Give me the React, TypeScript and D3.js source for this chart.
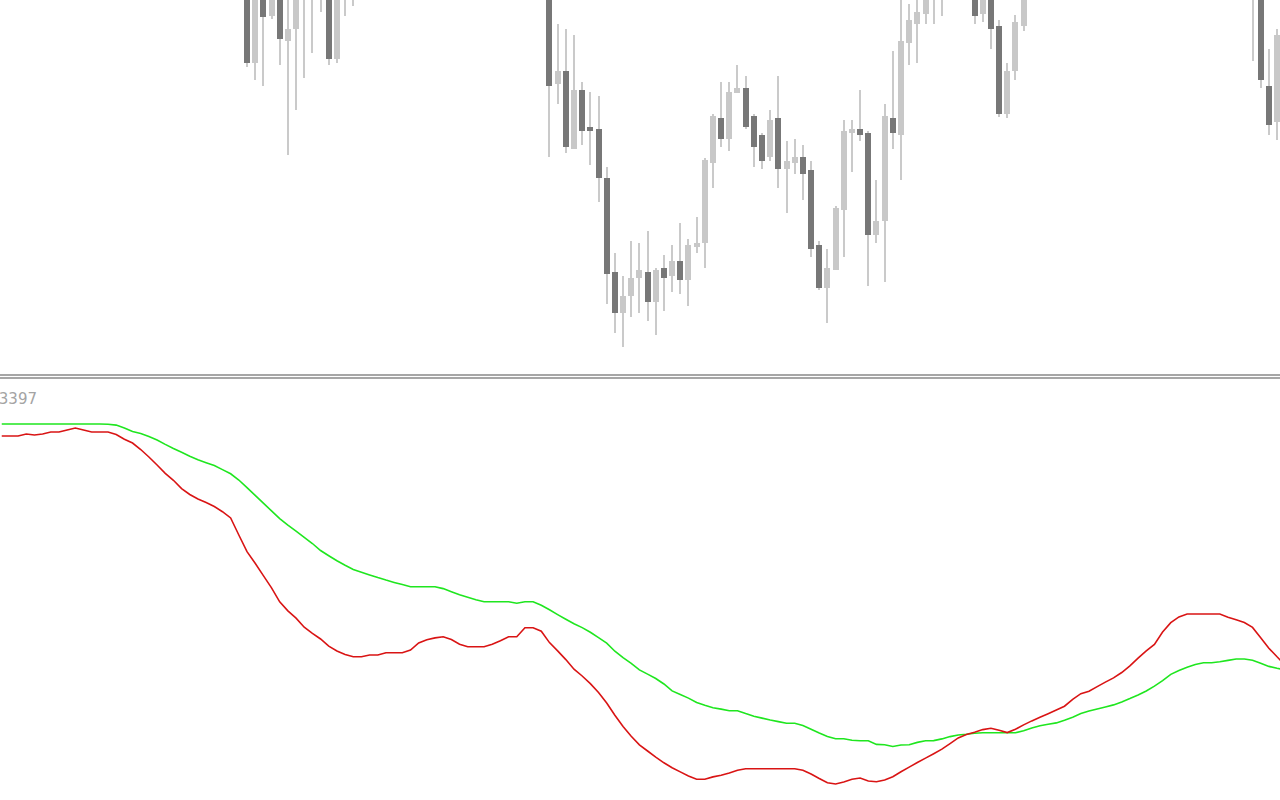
import React from 'react';
import * as d3 from 'd3';

// bar slots visible in the window (0 = leftmost bar)
const barCount = 157;

// candles that reach into the visible price range: [bar, open, high, low, close]
const candleBars = [
  30, 31, 32, 33, 34, 35, 36, 37, 38, 39, 40, 41, 42, 43,
  67, 68, 69, 70, 71, 72, 73, 74, 75, 76, 77, 78, 79, 80, 81, 82, 83, 84, 85, 86, 87, 88, 89, 90,
  91, 92, 93, 94, 95, 96, 97, 98, 99, 100, 101, 102, 103, 104, 105, 106, 107, 108, 109, 110,
  111, 112, 113, 114, 115,
  119, 120, 121, 122, 123, 124, 125,
  153, 154, 155, 156,
];
const opens = [
  150.10, 149.37, 150.05, 149.84, 150.08, 149.59, 149.71, 150.10, 150.30, 150.15, 150.25, 149.41, 150.20, 150.40,
  150.10, 149.16, 149.29, 148.51, 149.10, 148.73, 148.71, 148.22, 147.28, 146.87, 147.04, 147.22, 147.28, 146.98,
  147.32, 147.24, 147.39, 147.20, 147.53, 147.57, 148.37, 148.82, 148.61, 149.07,
  149.12, 148.84, 148.65, 148.43, 148.82, 148.31, 148.37, 148.43, 148.30, 147.55, 147.12, 147.30, 147.90, 148.67,
  148.71, 148.67, 147.65, 147.79, 148.82, 148.65,
  149.57, 149.76, 149.86, 150.05, 150.20,
  150.10, 149.86, 150.05, 149.74, 148.86, 149.29, 149.74,
  150.20, 150.35, 149.14, 148.78,
];
const highs = [
  150.25, 150.20, 150.15, 150.18, 150.20, 150.05, 150.30, 150.45, 150.50, 150.40, 150.35, 150.30, 150.50, 150.60,
  150.20, 149.76, 149.71, 149.65, 149.18, 149.08, 149.04, 148.33, 147.47, 147.24, 147.59, 147.57, 147.69, 147.32,
  147.45, 147.55, 147.77, 147.61, 147.83, 148.42, 148.86, 149.18, 149.18, 149.35,
  149.24, 148.86, 148.67, 148.90, 149.24, 148.59, 148.61, 148.55, 148.39, 147.59, 147.51, 147.94, 148.80, 148.80,
  149.10, 148.69, 148.20, 148.96, 149.49, 150.05,
  149.96, 150.02, 150.15, 150.30, 150.45,
  150.20, 150.15, 150.12, 149.80, 149.37, 149.85, 150.15,
  150.50, 150.45, 149.51, 149.71,
];
const lows = [
  149.33, 149.20, 149.14, 149.81, 149.35, 148.45, 148.90, 149.22, 149.47, 149.88, 149.35, 149.37, 149.84, 149.94,
  148.43, 148.96, 148.47, 148.51, 148.55, 148.35, 147.98, 146.96, 146.67, 146.53, 146.83, 146.87, 146.79, 146.65,
  146.89, 147.08, 147.06, 146.94, 147.47, 147.32, 148.12, 148.53, 148.49, 149.07,
  148.71, 148.33, 148.31, 148.39, 148.12, 147.87, 148.26, 148.00, 147.43, 147.10, 146.77, 147.30, 147.43, 148.28,
  148.59, 147.14, 147.57, 147.18, 148.51, 148.20,
  149.35, 149.37, 149.76, 149.76, 149.84,
  149.76, 149.78, 149.51, 148.83, 148.82, 149.20, 149.69,
  149.39, 149.12, 148.65, 148.60,
];
const closes = [
  149.37, 150.05, 149.83, 150.08, 149.61, 149.71, 150.12, 150.30, 150.15, 150.25, 149.41, 150.20, 150.40, 150.50,
  149.14, 149.29, 148.53, 149.10, 148.69, 148.69, 148.22, 147.26, 146.87, 147.04, 147.22, 147.30, 146.98, 147.30,
  147.22, 147.39, 147.20, 147.55, 147.57, 148.40, 148.84, 148.61, 149.08, 149.12,
  148.73, 148.53, 148.39, 148.80, 148.31, 148.39, 148.43, 148.26, 147.51, 147.12, 147.32, 147.92, 148.69, 148.71,
  148.65, 147.65, 147.79, 148.84, 148.67, 149.59,
  149.80, 149.88, 150.05, 150.20, 150.35,
  149.84, 150.05, 149.71, 148.86, 149.29, 149.78, 150.05,
  150.35, 149.20, 148.75, 149.65,
];

// indicator buffers, one value per bar (last one runs past the right edge)
const redLine = [
  0.364, 0.364, 0.364, 0.366, 0.365, 0.366, 0.368, 0.368, 0.370, 0.372,
  0.370, 0.368, 0.368, 0.368, 0.3655, 0.3607, 0.357, 0.3505, 0.343, 0.335,
  0.3267, 0.3197, 0.3114, 0.3055, 0.301, 0.2974, 0.2935, 0.2883, 0.2821, 0.265,
  0.2483, 0.2367, 0.2244, 0.2122, 0.1981, 0.1891, 0.1819, 0.1728, 0.1667, 0.161,
  0.1538, 0.149, 0.1456, 0.1433, 0.1433, 0.145, 0.145, 0.1473, 0.1473, 0.1473,
  0.150, 0.157, 0.1602, 0.1621, 0.1633, 0.1604, 0.1558, 0.1533, 0.1533, 0.1533,
  0.1558, 0.1593, 0.1633, 0.1633, 0.1723, 0.1723, 0.1688, 0.1574, 0.1491, 0.1404,
  0.1308, 0.124, 0.1164, 0.1075, 0.097, 0.0848, 0.0735, 0.0637, 0.0552, 0.049,
  0.0429, 0.0372, 0.0323, 0.0281, 0.024, 0.0207, 0.0207, 0.0231, 0.0247, 0.027,
  0.0298, 0.0313, 0.0313, 0.0313, 0.0313, 0.0313, 0.0313, 0.0313, 0.0297, 0.026,
  0.0215, 0.0173, 0.016, 0.018, 0.0208, 0.022, 0.019, 0.0183, 0.020, 0.0232,
  0.0283, 0.0329, 0.0375, 0.0419, 0.0463, 0.0509, 0.0564, 0.0621, 0.0656, 0.0678,
  0.0704, 0.0717, 0.0697, 0.0674, 0.0707, 0.0751, 0.0791, 0.0827, 0.0862, 0.0899,
  0.0938, 0.1007, 0.1063, 0.1087, 0.1134, 0.1179, 0.1221, 0.1275, 0.1341, 0.1418,
  0.1492, 0.1556, 0.168, 0.1773, 0.1831, 0.186, 0.186, 0.186, 0.186, 0.186,
  0.1828, 0.1802, 0.1774, 0.1726, 0.1622, 0.1518, 0.1432, 0.135,
];
const greenLine = [
  0.376, 0.376, 0.376, 0.376, 0.376, 0.376, 0.376, 0.376, 0.376, 0.376,
  0.376, 0.376, 0.376, 0.3758, 0.3749, 0.372, 0.3685, 0.3665, 0.3635, 0.360,
  0.3556, 0.3515, 0.3477, 0.3438, 0.3402, 0.3373, 0.3344, 0.3304, 0.3262, 0.320,
  0.3123, 0.3047, 0.2969, 0.2891, 0.2814, 0.2748, 0.2688, 0.2627, 0.2565, 0.2495,
  0.2443, 0.2392, 0.2347, 0.2306, 0.2278, 0.2251, 0.2224, 0.2199, 0.2176, 0.2154,
  0.2133, 0.2133, 0.2133, 0.2133, 0.2114, 0.2083, 0.2052, 0.2028, 0.2003, 0.1983,
  0.1983, 0.1983, 0.1983, 0.1968, 0.1983, 0.1983, 0.1948, 0.1902, 0.1854, 0.1807,
  0.1762, 0.1724, 0.1677, 0.1623, 0.1569, 0.1488, 0.1423, 0.1366, 0.1301, 0.1259,
  0.1215, 0.116, 0.1091, 0.1055, 0.1019, 0.0975, 0.0947, 0.0923, 0.0909, 0.0893,
  0.0893, 0.0864, 0.0838, 0.0819, 0.080, 0.0784, 0.0768, 0.0767, 0.0745, 0.0707,
  0.067, 0.0636, 0.0613, 0.0613, 0.0597, 0.0593, 0.0593, 0.0556, 0.0553, 0.0535,
  0.055, 0.0553, 0.0576, 0.0593, 0.0594, 0.0611, 0.0634, 0.065, 0.0657, 0.0667,
  0.0673, 0.0673, 0.0673, 0.0673, 0.0673, 0.0693, 0.0721, 0.0742, 0.0758, 0.0771,
  0.0798, 0.0828, 0.0864, 0.0889, 0.091, 0.0931, 0.0951, 0.0981, 0.1014, 0.105,
  0.109, 0.1139, 0.1193, 0.1256, 0.1295, 0.1327, 0.1356, 0.1373, 0.1373, 0.1382,
  0.1396, 0.141, 0.141, 0.1398, 0.1367, 0.1336, 0.1317, 0.130,
];

// what is left of the sub-window value label (cut at the left edge)
const indicatorLabel = '3397';

const W = 1280;
const H = 800;

export default function App() {
  const x = d3.scaleLinear().domain([0, barCount - 1]).range([1.75, 1277.05]);
  const yPrice = d3.scaleLinear().domain([150, 146.5]).range([0, 350]);
  const yInd = d3.scaleLinear().domain([0, 0.42]).range([800, 380]);

  const line = d3.line<number>()
    .x((_, i) => x(i))
    .y(d => yInd(d));

  const bodyW = 6;
  const wickW = 2;

  return (
    <div style={{ position: 'fixed', left: 0, top: 0, width: W, height: H, background: '#fff' }}>
      <svg width={W} height={H} style={{ display: 'block' }}>
        <rect width={W} height={H} fill="#ffffff" />

        {/* candles */}
        <g shapeRendering="crispEdges">
          {candleBars.map((b, k) => {
            const cx = Math.round(x(b));
            const o = opens[k], c = closes[k];
            const top = yPrice(Math.max(o, c));
            const bot = yPrice(Math.min(o, c));
            return (
              <g key={b}>
                <rect
                  x={cx - wickW / 2}
                  y={yPrice(highs[k])}
                  width={wickW}
                  height={yPrice(lows[k]) - yPrice(highs[k])}
                  fill="#cacaca"
                />
                <rect
                  x={cx - bodyW / 2}
                  y={top}
                  width={bodyW}
                  height={Math.max(2, bot - top)}
                  fill={c >= o ? '#c8c8c8' : '#777777'}
                />
              </g>
            );
          })}
        </g>

        {/* window separator */}
        <g shapeRendering="crispEdges">
          <rect x={0} y={374} width={W} height={2} fill="#a6a6a6" />
          <rect x={0} y={377} width={W} height={2} fill="#a6a6a6" />
        </g>

        <text
          x={37}
          y={404}
          textAnchor="end"
          fontFamily="'DejaVu Sans', sans-serif"
          fontSize={15}
          fill="#a4a4a4"
        >
          {indicatorLabel}
        </text>

        {/* indicator lines */}
        <path d={line(greenLine) ?? ''} fill="none" stroke="#1fe61f" strokeWidth={1.6} />
        <path d={line(redLine) ?? ''} fill="none" stroke="#d91414" strokeWidth={1.6} />
      </svg>
    </div>
  );
}
